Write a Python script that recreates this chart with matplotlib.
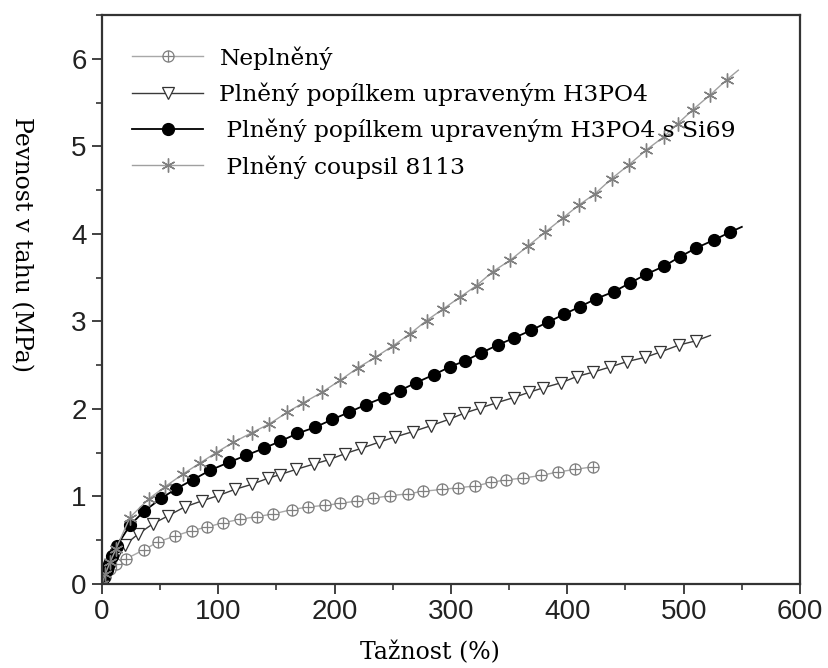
import matplotlib
matplotlib.use("Agg")
import matplotlib.pyplot as plt
from matplotlib.path import Path
from matplotlib.ticker import MultipleLocator

# ---- data ----
labels = ["Neplněný",
          "Plněný popílkem upraveným H3PO4",
          " Plněný popílkem upraveným H3PO4 s Si69",
          " Plněný coupsil 8113"]

x_nepl = [0, 3, 7, 12, 21, 36, 48, 63, 77, 90, 104, 119, 133, 147, 163, 177, 192, 205,
          219, 233, 248, 263, 276, 292, 306, 321, 334, 347, 362, 377, 392, 407, 422]
y_nepl = [0, 0.08, 0.17, 0.23, 0.29, 0.39, 0.48, 0.55, 0.61, 0.65, 0.70, 0.74, 0.77, 0.80,
          0.85, 0.88, 0.90, 0.92, 0.95, 0.98, 1.01, 1.03, 1.06, 1.08, 1.10, 1.12, 1.16, 1.19,
          1.21, 1.24, 1.28, 1.31, 1.34]

x_h3po4 = [0, 3, 7, 12, 20, 31, 44, 57, 71, 86, 100, 114, 129, 143, 153, 167, 182, 195, 209,
           223, 238, 252, 267, 283, 298, 311, 325, 339, 354, 367, 379, 395, 408, 422, 437,
           451, 467, 480, 496, 511, 523]
y_h3po4 = [0, 0.10, 0.22, 0.33, 0.45, 0.57, 0.69, 0.78, 0.88, 0.95, 1.01, 1.08, 1.14, 1.21,
           1.25, 1.31, 1.37, 1.42, 1.49, 1.55, 1.62, 1.68, 1.74, 1.81, 1.88, 1.95, 2.01, 2.07,
           2.13, 2.19, 2.24, 2.30, 2.37, 2.42, 2.48, 2.54, 2.59, 2.65, 2.73, 2.78, 2.84]

x_si69 = [0, 2, 4, 6, 9, 13, 24, 36, 51, 64, 78, 93, 109, 124, 139, 153, 168, 183, 198, 212,
          227, 242, 256, 270, 285, 299, 312, 326, 340, 354, 369, 383, 397, 411, 425, 440, 454,
          468, 483, 497, 511, 526, 540, 550]
y_si69 = [0, 0.08, 0.16, 0.23, 0.32, 0.44, 0.67, 0.83, 0.98, 1.09, 1.19, 1.30, 1.39, 1.47,
          1.55, 1.63, 1.72, 1.79, 1.88, 1.96, 2.05, 2.13, 2.21, 2.30, 2.39, 2.48, 2.55, 2.64,
          2.73, 2.81, 2.90, 2.99, 3.08, 3.17, 3.26, 3.34, 3.44, 3.54, 3.63, 3.74, 3.84, 3.93,
          4.02, 4.08]

x_coup = [0, 3, 7, 12, 24, 40, 54, 70, 84, 98, 113, 129, 144, 159, 173, 189, 205, 220, 235,
          250, 265, 279, 293, 308, 322, 336, 351, 366, 381, 396, 410, 424, 438, 453, 468, 483,
          495, 508, 523, 537, 547]
y_coup = [0, 0.12, 0.25, 0.40, 0.76, 0.97, 1.11, 1.26, 1.38, 1.50, 1.62, 1.73, 1.83, 1.96,
          2.07, 2.19, 2.33, 2.47, 2.59, 2.72, 2.86, 3.01, 3.14, 3.28, 3.41, 3.57, 3.70, 3.86,
          4.02, 4.18, 4.33, 4.46, 4.63, 4.79, 4.96, 5.11, 5.26, 5.42, 5.59, 5.76, 5.87]

x_ticks = [0, 100, 200, 300, 400, 500, 600]
y_ticks = [0, 1, 2, 3, 4, 5, 6]

# ---- figure ----
fig = plt.figure(figsize=(8.29, 6.68), dpi=100)
ax = fig.add_axes([0.123, 0.1257, 0.842, 0.8518])

circle = Path.unit_circle()
cross = Path([[-1, 0], [1, 0], [0, -1], [0, 1]],
             [Path.MOVETO, Path.LINETO, Path.MOVETO, Path.LINETO])
oplus = Path.make_compound_path(circle, cross)

ax.plot(x_nepl, y_nepl, color="#a8a8a8", lw=1.0, marker=oplus, ms=8,
        mfc="white", mec="#808080", mew=0.9, label=labels[0])
ax.plot(x_h3po4, y_h3po4, color="#3a3a3a", lw=1.0, marker="v", ms=9,
        mfc="white", mec="#333333", mew=0.9, markevery=slice(0, -1), label=labels[1])
ax.plot(x_si69, y_si69, color="black", lw=1.3, marker="o", ms=8.5,
        mfc="black", mec="black", markevery=slice(0, -1), label=labels[2])
ax.plot(x_coup, y_coup, color="#a0a0a0", lw=1.0, marker=(6, 2, 0), ms=10,
        mec="#808080", mew=1.0, markevery=slice(0, -1), label=labels[3])

ax.set_xlim(0, 600)
ax.set_ylim(0, 6.5)
ax.set_xticks(x_ticks)
ax.set_yticks(y_ticks)
ax.xaxis.set_minor_locator(MultipleLocator(50))
ax.yaxis.set_minor_locator(MultipleLocator(0.5))

for s in ax.spines.values():
    s.set_linewidth(1.6)
    s.set_color("#333333")

ax.tick_params(which="major", direction="out", length=7, width=1.3, color="#333333",
               top=False, right=False, labelsize=20, pad=4)
ax.tick_params(which="minor", direction="out", length=4, width=1.2, color="#333333",
               top=False, right=False)
for t in ax.get_xticklabels() + ax.get_yticklabels():
    t.set_fontfamily(["Liberation Sans", "DejaVu Sans"])
    t.set_color("#222222")

ax.set_xlabel("Tažnost (%)", family=["DejaVu Serif"], fontsize=17, va="center")
ax.xaxis.set_label_coords(0.47, -0.121)
ax.set_ylabel("Pevnost v tahu (MPa)", family=["DejaVu Serif"], fontsize=17,
              rotation=270, va="center", ha="center")
ax.yaxis.set_label_coords(-0.115, 0.596)

leg = ax.legend(loc="upper left", bbox_to_anchor=(0.043, 0.9455), frameon=False,
                prop={"family": ["DejaVu Serif"], "size": 16.8}, numpoints=1,
                handlelength=3.05, handletextpad=0.7, labelspacing=0.55,
                borderpad=0, borderaxespad=0)

fig.savefig("out.png", dpi=100)
